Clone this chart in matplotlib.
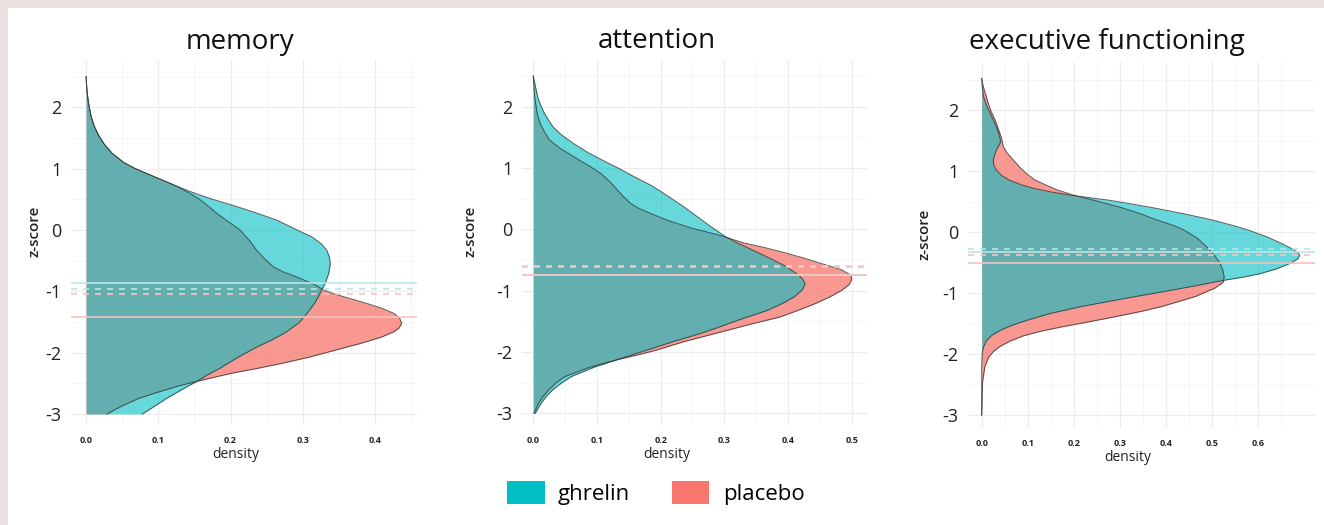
import numpy as np
import matplotlib.pyplot as plt
from matplotlib.patches import Patch, Rectangle

plt.rcParams['font.family'] = ['Open Sans', 'DejaVu Sans']
plt.rcParams['axes.unicode_minus'] = False

# ---- memory ----
mem_ghr_z = [2.5, 2.4, 2.25, 2.1, 2.0, 1.85, 1.7, 1.55, 1.4, 1.25, 1.1, 1.0, 0.9, 0.8, 0.7, 0.6, 0.5,
             0.43, 0.3, 0.16, 0.0, -0.11, -0.22, -0.33, -0.45, -0.55, -0.7, -0.87, -0.98, -1.1, -1.2,
             -1.36, -1.52, -1.68, -1.8, -1.9, -2.0, -2.12, -2.25, -2.35, -2.47, -2.6, -2.75, -2.88, -3.0]
mem_ghr_d = [0.0, 0.0005, 0.0015, 0.003, 0.0045, 0.007, 0.011, 0.017, 0.025, 0.036, 0.052, 0.068, 0.088,
             0.108, 0.128, 0.15, 0.175, 0.195, 0.23, 0.264, 0.292, 0.312, 0.325, 0.333, 0.337, 0.338,
             0.336, 0.331, 0.326, 0.321, 0.316, 0.306, 0.294, 0.275, 0.256, 0.238, 0.222, 0.204, 0.186,
             0.17, 0.153, 0.133, 0.111, 0.094, 0.078]
mem_pla_z = [2.5, 2.4, 2.25, 2.1, 2.0, 1.85, 1.7, 1.55, 1.4, 1.25, 1.1, 1.0, 0.9, 0.8, 0.7, 0.6, 0.5,
             0.4, 0.27, 0.15, 0.0, -0.17, -0.33, -0.47, -0.6, -0.68, -0.76, -0.84, -0.9, -0.98, -1.05,
             -1.1, -1.2, -1.28, -1.36, -1.44, -1.52, -1.6, -1.66, -1.75, -1.85, -1.96, -2.07, -2.17,
             -2.25, -2.33, -2.4, -2.47, -2.55, -2.65, -2.75, -2.88, -3.0]
mem_pla_d = [0.0, 0.0005, 0.0015, 0.003, 0.0045, 0.007, 0.011, 0.017, 0.025, 0.036, 0.052, 0.068, 0.088,
             0.108, 0.128, 0.143, 0.157, 0.168, 0.181, 0.195, 0.213, 0.226, 0.236, 0.247, 0.259, 0.272,
             0.29, 0.306, 0.318, 0.329, 0.345, 0.36, 0.389, 0.41, 0.426, 0.434, 0.437, 0.433, 0.426,
             0.408, 0.38, 0.345, 0.31, 0.273, 0.24, 0.204, 0.178, 0.153, 0.126, 0.098, 0.072, 0.048,
             0.029]

# ---- attention ----
att_ghr_z = [2.5, 2.4, 2.3, 2.15, 2.05, 1.9, 1.78, 1.67, 1.55, 1.4, 1.25, 1.13, 1.0, 0.86, 0.7, 0.53,
             0.37, 0.21, 0.05, -0.12, -0.23, -0.38, -0.5, -0.6, -0.72, -0.8, -0.88, -0.98, -1.1, -1.2,
             -1.32, -1.4, -1.48, -1.6, -1.7, -1.83, -1.97, -2.05, -2.13, -2.25, -2.4, -2.5, -2.62,
             -2.73, -2.84, -3.0]
att_ghr_d = [0.0, 0.002, 0.004, 0.007, 0.0105, 0.017, 0.024, 0.031, 0.043, 0.063, 0.086, 0.108, 0.133,
             0.158, 0.188, 0.213, 0.236, 0.257, 0.278, 0.302, 0.322, 0.353, 0.377, 0.396, 0.413, 0.422,
             0.427, 0.423, 0.41, 0.393, 0.368, 0.345, 0.322, 0.29, 0.262, 0.22, 0.178, 0.154, 0.13,
             0.095, 0.06, 0.045, 0.03, 0.02, 0.012, 0.003]
att_pla_z = [2.5, 2.3, 2.1, 1.9, 1.73, 1.6, 1.46, 1.32, 1.22, 1.13, 1.02, 0.91, 0.78, 0.64, 0.53, 0.42,
             0.34, 0.26, 0.15, 0.02, -0.09, -0.22, -0.3, -0.39, -0.47, -0.55, -0.66, -0.75, -0.82, -0.9,
             -0.99, -1.1, -1.21, -1.32, -1.43, -1.55, -1.7, -1.83, -1.97, -2.05, -2.13, -2.25, -2.4,
             -2.5, -2.62, -2.73, -2.84, -3.0]
att_pla_d = [0.0, 0.001, 0.003, 0.006, 0.0105, 0.017, 0.025, 0.042, 0.058, 0.072, 0.09, 0.106, 0.12,
             0.132, 0.142, 0.153, 0.166, 0.184, 0.21, 0.248, 0.29, 0.33, 0.364, 0.398, 0.425, 0.45,
             0.484, 0.499, 0.5, 0.496, 0.485, 0.466, 0.443, 0.416, 0.387, 0.34, 0.285, 0.237, 0.193,
             0.163, 0.13, 0.088, 0.05, 0.036, 0.024, 0.015, 0.008, 0.001]

# ---- executive functioning ----
exe_ghr_z = [2.52, 2.4, 2.22, 2.05, 1.89, 1.78, 1.7, 1.62, 1.56, 1.48, 1.43, 1.38, 1.29, 1.18, 1.1,
             1.02, 0.93, 0.85, 0.78, 0.72, 0.66, 0.61, 0.52, 0.41, 0.3, 0.2, 0.1, 0.03, -0.08, -0.19,
             -0.28, -0.33, -0.38, -0.44, -0.51, -0.6, -0.68, -0.74, -0.79, -0.87, -0.96, -1.08, -1.22,
             -1.33, -1.44, -1.52, -1.61, -1.69, -1.77, -1.88, -1.99, -2.2, -3.0]
exe_ghr_d = [0.0, 0.001, 0.004, 0.012, 0.022, 0.029, 0.033, 0.037, 0.039, 0.041, 0.038, 0.034, 0.029,
             0.025, 0.026, 0.032, 0.043, 0.061, 0.085, 0.112, 0.15, 0.19, 0.28, 0.365, 0.44, 0.5, 0.55,
             0.58, 0.62, 0.652, 0.675, 0.685, 0.69, 0.685, 0.669, 0.64, 0.604, 0.565, 0.524, 0.47,
             0.405, 0.315, 0.215, 0.15, 0.1, 0.068, 0.04, 0.022, 0.011, 0.004, 0.001, 0.0, 0.0]
exe_pla_z = [2.52, 2.4, 2.3, 2.11, 1.97, 1.84, 1.7, 1.54, 1.4, 1.3, 1.18, 1.07, 0.96, 0.86, 0.77, 0.69,
             0.61, 0.52, 0.41, 0.3, 0.2, 0.1, 0.03, -0.1, -0.24, -0.38, -0.51, -0.62, -0.73, -0.82,
             -0.92, -1.0, -1.05, -1.13, -1.22, -1.3, -1.4, -1.48, -1.55, -1.62, -1.7, -1.79, -1.88,
             -1.96, -2.05, -2.2, -2.45, -3.0]
exe_pla_d = [0.0, 0.003, 0.007, 0.0144, 0.021, 0.029, 0.036, 0.043, 0.047, 0.055, 0.069, 0.082, 0.097,
             0.115, 0.14, 0.165, 0.198, 0.245, 0.3, 0.345, 0.38, 0.42, 0.44, 0.468, 0.488, 0.505, 0.517,
             0.523, 0.526, 0.524, 0.505, 0.48, 0.465, 0.43, 0.39, 0.345, 0.28, 0.225, 0.175, 0.13,
             0.09, 0.06, 0.038, 0.025, 0.015, 0.007, 0.002, 0.0]

# reference lines: ghrelin solid, ghrelin dashed, placebo solid, placebo dashed
mem_lines = [-0.87, -0.96, -1.415, -1.05]
att_lines = [-0.74, -0.60, -0.75, -0.61]
exe_lines = [-0.32, -0.28, -0.50, -0.37]

titles = ['memory', 'attention', 'executive functioning']
mem_xticks = [0.0, 0.1, 0.2, 0.3, 0.4]
att_xticks = [0.0, 0.1, 0.2, 0.3, 0.4, 0.5]
exe_xticks = [0.0, 0.1, 0.2, 0.3, 0.4, 0.5, 0.6]
yticks = [-3, -2, -1, 0, 1, 2]

ghr_col = '#00BFC4'
pla_col = '#F8766D'
ghr_line = '#b9e7e6'
pla_line = '#f4c3bf'

W, H = 1324, 525
fig = plt.figure(figsize=(W / 100, H / 100), dpi=100)
fig.patch.set_facecolor('#e9e0e0')
fig.patches.append(Rectangle((8 / W, 0), 1, 1 - 8 / H, transform=fig.transFigure,
                             facecolor='white', edgecolor='none', zorder=-10))

# pixel boxes: left, top, right, bottom
boxes = [(71, 60, 417, 425), (522, 60, 867, 425), (968, 62, 1315, 428)]
xlims = [(-0.0208, 0.458), (-0.0177, 0.524), (-0.0297, 0.723)]
ylims = [(-3.18, 2.77), (-3.19, 2.76), (-3.21, 2.79)]
zlab_x = [-0.084, -0.128, -0.104]
dens_x = [0.477, 0.42, 0.461]
title_x = [240, 657, 1107]
title_y = [48.5, 48.5, 49.5]

panels = [
    (mem_ghr_z, mem_ghr_d, mem_pla_z, mem_pla_d, mem_lines, mem_xticks),
    (att_ghr_z, att_ghr_d, att_pla_z, att_pla_d, att_lines, att_xticks),
    (exe_ghr_z, exe_ghr_d, exe_pla_z, exe_pla_d, exe_lines, exe_xticks),
]

for i, (gz, gd, pz, pd_, lines, xt) in enumerate(panels):
    l, t, r, b = boxes[i]
    ax = fig.add_axes([l / W, 1 - b / H, (r - l) / W, (b - t) / H])
    ax.set_facecolor('white')
    for s in ax.spines.values():
        s.set_visible(False)

    ax.fill_betweenx(pz, 0, pd_, color=pla_col, alpha=0.75, lw=0, zorder=2)
    ax.fill_betweenx(gz, 0, gd, color=ghr_col, alpha=0.6, lw=0, zorder=3)
    ax.plot(pd_, pz, color='#333333', lw=0.7, alpha=0.8, zorder=4)
    ax.plot(gd, gz, color='#333333', lw=0.7, alpha=0.8, zorder=4)

    ax.axhline(lines[0], color=ghr_line, lw=1.2, zorder=5)
    ax.axhline(lines[2], color=pla_line, lw=1.2, zorder=5)
    ax.axhline(lines[1], color=ghr_line, lw=1.2, ls=(0, (3.6, 3.6)), zorder=5)
    ax.axhline(lines[3], color=pla_line, lw=1.2, ls=(0, (3.6, 3.6)), zorder=5)

    ax.set_xlim(*xlims[i])
    ax.set_ylim(*ylims[i])
    ax.set_xticks(xt)
    ax.set_xticklabels(['%.1f' % v for v in xt], fontsize=6.5, fontweight='bold', color='#222222')
    ax.set_xticks(np.arange(0.05, xlims[i][1], 0.1), minor=True)
    ax.set_yticks(yticks)
    ax.set_yticklabels([str(v) for v in yticks], fontsize=13, color='#222222')
    ax.set_yticks([-2.5, -1.5, -0.5, 0.5, 1.5, 2.5], minor=True)
    ax.tick_params(which='both', length=0)
    ax.tick_params(axis='y', pad=7)
    ax.tick_params(axis='x', pad=8)
    ax.grid(which='major', color='#ececec', lw=0.8, zorder=0)
    ax.grid(which='minor', color='#f4f4f4', lw=0.6, zorder=0)
    ax.set_axisbelow(True)

    ax.set_ylabel('z-score', fontsize=11, fontweight='semibold', color='#222222')
    ax.yaxis.set_label_coords(zlab_x[i], 0.53)
    ax.set_xlabel('density', fontsize=10, color='#222222')
    ax.xaxis.set_label_coords(dens_x[i], -0.06)

    fig.text(title_x[i] / W, 1 - title_y[i] / H, titles[i], fontsize=20, ha='center',
             va='baseline', color='#111111')

handles = [Patch(facecolor=ghr_col, edgecolor='none', label='ghrelin'),
           Patch(facecolor=pla_col, edgecolor='none', label='placebo')]
fig.legend(handles=handles, loc='center', bbox_to_anchor=(656 / W, 1 - 493 / H), ncol=2,
           frameon=False, fontsize=16, handlelength=1.67, handleheight=1.2,
           handletextpad=0.6, columnspacing=1.9)

fig.savefig('out.png', dpi=100)
